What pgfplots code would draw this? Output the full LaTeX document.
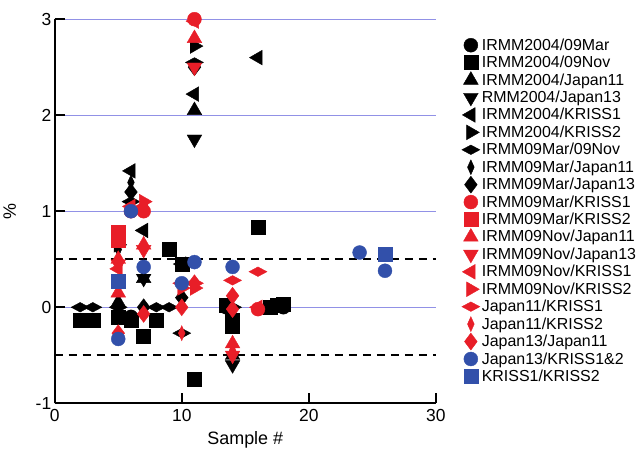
\documentclass[border=0pt]{standalone}
\usepackage{pgfplots}
\pgfplotsset{compat=1.18}
\usepackage{fontspec}
\setmainfont{Liberation Sans}
\definecolor{rd}{RGB}{232,30,40}
\definecolor{bl}{RGB}{50,80,170}
\definecolor{gridc}{RGB}{145,145,230}
\begin{document}
\begin{tikzpicture}
\begin{axis}[
  scale only axis, width=381bp, height=384bp,
  xmin=0, xmax=30, ymin=-1, ymax=3,
  axis x line*=bottom, axis y line*=left,
  axis line style={line width=1.8pt,-},
  xtick={0,10,20,30}, ytick={-1,0,1,2,3},
  tick align=inside, major tick length=10bp,
  tick style={line width=1.8pt,black},
  ymajorgrids, grid style={gridc,line width=0.9pt},
  /pgf/number format/assume math mode=true,
  tick label style={font=\fontsize{17.5}{19}\selectfont},
  xticklabel style={yshift=-3bp},
  xlabel={Sample \#}, ylabel={\%},
  label style={font=\fontsize{18}{20}\selectfont},
  xlabel style={yshift=-3bp},
  ylabel style={yshift=13bp},
  clip=false,
  legend cell align=left,
  legend style={draw=none, fill=none, at={(axis description cs:1.068,0.955)}, anchor=north west,
    font=\fontsize{16}{17}\selectfont, row sep=0.4bp, inner sep=0pt,
    /tikz/every even column/.append style={column sep=2bp}},
  every axis plot/.append style={only marks},
]
\path (axis cs:0,3.2);
\addplot[black, forget plot, dashed, dash pattern=on 8bp off 6bp, line width=2pt, no marks, sharp plot] coordinates {(0,0.5)(30,0.5)};
\addplot[black, forget plot, dashed, dash pattern=on 8bp off 6bp, line width=2pt, no marks, sharp plot] coordinates {(0,-0.5)(30,-0.5)};
% 1 IRMM2004/09Mar
\addplot[black, mark=*, mark size=7] coordinates {(13.5,0.0)(17,0.0)(18,0.0)(6,-0.1)};
% 2 IRMM2004/09Nov
\addplot[black, mark=square*, mark size=7] coordinates {(2,-0.13)(3,-0.13)(5,-0.1)(6,-0.13)(7,-0.3)(8,-0.13)(9,0.6)(10,0.45)(11,-0.75)(13.5,0.02)(14,-0.13)(14,-0.2)(16,0.83)(17,0.0)(17.5,0.02)(18,0.03)};
% 3 IRMM2004/Japan11
\addplot[black, mark=triangle*, mark size=8.5] coordinates {(11,2.05)(7,0.3)(5,0.05)(14,-0.5)};
% 4 IRMM2004/Japan13
\addplot[black, mark=triangle*, mark size=8.5, mark options={rotate=180}] coordinates {(11,1.75)(14,-0.6)(7,0.3)};
% 5 IRMM2004/KRISS1
\addplot[black, mark=triangle*, mark size=8.5, mark options={rotate=90}] coordinates {(6,1.42)(11,2.22)(16,2.6)(7,0.8)(10,0.45)};
% 6 IRMM2004/KRISS2
\addplot[black, mark=triangle*, mark size=8.5, mark options={rotate=-90}] coordinates {(5,0.65)(11,2.72)};
% 7 IRMM09Mar/09Nov
\addplot[black, mark=diamond*, mark size=6, mark options={xscale=2, yscale=0.8}] coordinates {(2,0)(3,0)(5,0)(8,0)(9,0)(11,2.55)(10,-0.27)(14,0)(6,1.1)};
% 8 IRMM09Mar/Japan11
\addplot[black, mark=diamond*, mark size=7.5, mark options={xscale=0.6}] coordinates {(6,1.3)(6,1.22)(5,0.6)};
% 9 IRMM09Mar/Japan13
\addplot[black, mark=diamond*, mark size=8.5] coordinates {(6,1.2)(11,2.5)(10,0.1)(7,0.0)(14,-0.1)};
% 10 IRMM09Mar/KRISS1
\addplot[rd, mark=*, mark size=7] coordinates {(11,3.0)(6,1.0)(7,1.0)(16,-0.02)};
% 11 IRMM09Mar/KRISS2
\addplot[rd, mark=square*, mark size=7] coordinates {(5,0.78)(5,0.7)};
% 12 IRMM09Nov/Japan11
\addplot[rd, mark=triangle*, mark size=8.5] coordinates {(11,2.8)(5,0.15)(5,0.5)(7,0.65)(14,-0.38)};
% 13 IRMM09Nov/Japan13
\addplot[rd, mark=triangle*, mark size=8.5, mark options={rotate=180}] coordinates {(11,2.5)(7,0.6)(14,-0.5)(5,0.45)};
% 14 IRMM09Nov/KRISS1
\addplot[rd, mark=triangle*, mark size=8.5, mark options={rotate=90}] coordinates {(11,2.98)(6,1.05)(5,0.4)(16,0.0)(7,1.05)};
% 15 IRMM09Nov/KRISS2
\addplot[rd, mark=triangle*, mark size=8.5, mark options={rotate=-90}] coordinates {(7,1.1)(10,0.2)(11,0.2)};
% 16 Japan11/KRISS1
\addplot[rd, mark=diamond*, mark size=6, mark options={xscale=2, yscale=0.8}] coordinates {(14,0.28)(16,0.37)(10,0.25)(11,0.25)};
% 17 Japan11/KRISS2
\addplot[rd, mark=diamond*, mark size=7.5, mark options={xscale=0.6}] coordinates {(10,-0.27)(14,-0.45)};
% 18 Japan13/Japan11
\addplot[rd, mark=diamond*, mark size=8.5] coordinates {(5,-0.27)(7,-0.07)(10,0.0)(11,0.25)(14,0.12)(14,-0.02)};
% 19 Japan13/KRISS1&2
\addplot[bl, mark=*, mark size=7] coordinates {(5,-0.33)(6,1.0)(7,0.42)(10,0.25)(11,0.47)(14,0.42)(24,0.57)(26,0.38)};
% 20 KRISS1/KRISS2
\addplot[bl, mark=square*, mark size=7] coordinates {(5,0.27)(26,0.55)};
\legend{IRMM2004/09Mar, IRMM2004/09Nov, IRMM2004/Japan11, RMM2004/Japan13, IRMM2004/KRISS1, IRMM2004/KRISS2, IRMM09Mar/09Nov, IRMM09Mar/Japan11, IRMM09Mar/Japan13, IRMM09Mar/KRISS1, IRMM09Mar/KRISS2, IRMM09Nov/Japan11, IRMM09Nov/Japan13, IRMM09Nov/KRISS1, IRMM09Nov/KRISS2, Japan11/KRISS1, Japan11/KRISS2, Japan13/Japan11, Japan13/KRISS1\&2, KRISS1/KRISS2}
\end{axis}
\end{tikzpicture}
\end{document}
